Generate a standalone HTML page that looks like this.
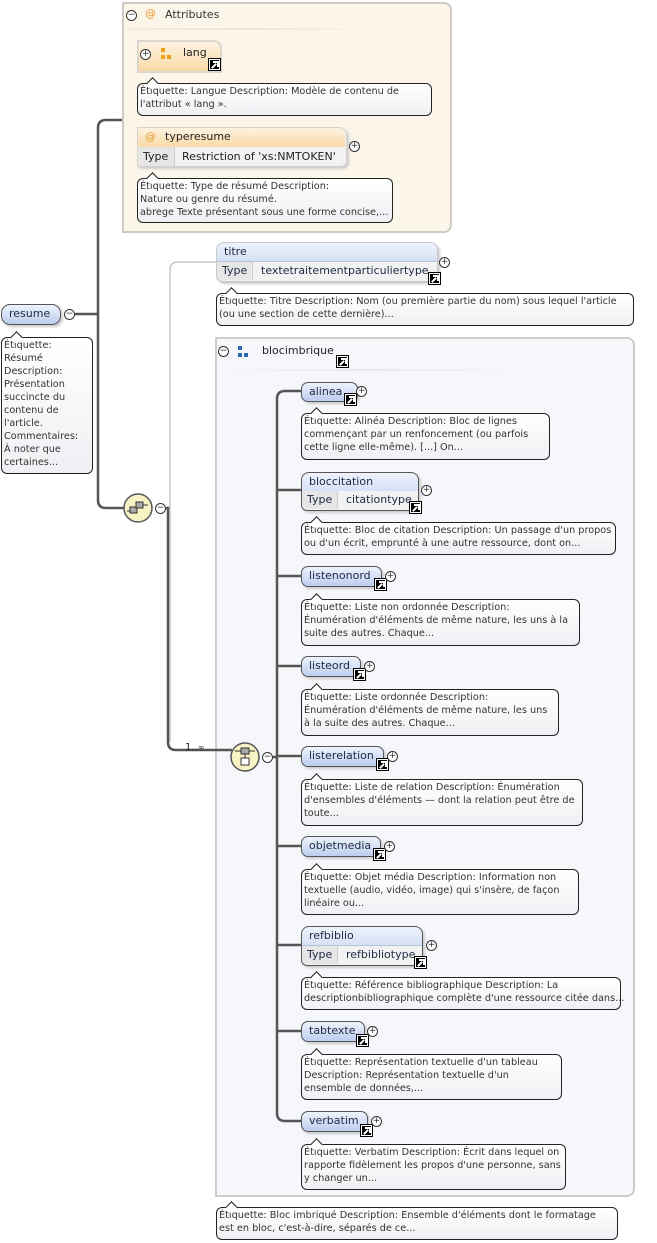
<!DOCTYPE html>
<html><head><meta charset="utf-8">
<style>
*{box-sizing:border-box;margin:0;padding:0}
body{width:657px;height:1243px;background:#fff;position:relative;overflow:hidden;font-family:"DejaVu Sans","Liberation Sans",sans-serif;color:#222}
.a{position:absolute}
.panel{position:absolute;border:2px solid #cfcac3;border-radius:0 8px 8px 0}
.ann{position:absolute;border:1px solid #222;border-radius:6px;background:linear-gradient(#fff,#eef0f3);font-size:9.7px;line-height:13px;padding:1px 2px;color:#333;white-space:nowrap}
.ann:before{content:"";position:absolute;left:10px;top:-5px;width:8px;height:8px;background:#fff;border-left:1px solid #222;border-top:1px solid #222;transform:rotate(45deg)}
.el{position:absolute;border:1px solid #555;border-radius:7px;background:linear-gradient(#eef3fc,#bccdee);box-shadow:2px 2px 2px #ccc;font-size:11px;line-height:18px;padding-left:7px;color:#1d2a44}
.el.t{border-radius:8px 8px 6px 6px}
.el .h{height:19px;border-bottom:1px solid #b5c3dd}
.el .r{position:absolute;left:0;right:0;bottom:0;height:19px;background:#f2f2f2;font-size:11px;line-height:18px;border-radius:0 0 6px 6px}
.el .r span{position:absolute;top:0}
.el .r .k{left:0;width:36px;padding-left:5px;background:#e6e6e6;border-right:1px solid #d0d0d0;height:18px;border-radius:0 0 0 6px}
.sc{position:absolute;width:11px;height:11px;background:#000;border:1px solid #fff;outline:1px solid #000}
.sc:after{content:"";position:absolute;left:3px;top:1px;width:4px;height:4px;border-top:2px solid #fff;border-right:2px solid #fff}
.sc:before{content:"";position:absolute;left:1px;top:5px;width:6px;height:2px;background:#fff;transform:rotate(-45deg)}
.pl,.mi{position:absolute;width:11px;height:11px;border:1px solid #333;border-radius:50%;background:#fff;font-size:9px;line-height:9px;text-align:center;color:#333}
</style></head><body>

<div class="panel" style="left:122px;top:2px;width:330px;height:231px;background:#fcf5ea"></div>
<div class="panel" style="left:215px;top:337px;width:420px;height:860px;background:#f6f7fb;border-color:#cdcdcd"></div>

<svg class="a" style="left:0;top:0" width="657" height="1243">
 <path d="M216 262 H178 Q170 262 170 270 V742" fill="none" stroke="#c8c8c8" stroke-width="1.5"/>
 <g fill="none" stroke="#555" stroke-width="2.5">
  <path d="M75 314 H98"/>
  <path d="M122 120 H106 Q98 120 98 128 V500 Q98 508 106 508 H124"/>
  <path d="M166 508 H168 V742 Q168 750 176 750 H232"/>
  <path d="M273 757 H277"/>
  <path d="M301 391 H285 Q277 391 277 399 V1113 Q277 1121 285 1121 H301"/>
  <path d="M277 490 H301 M277 576 H301 M277 666 H301 M277 756 H301 M277 846 H301 M277 945 H301 M277 1031 H301"/>
 </g>
 <circle cx="138" cy="508" r="14" fill="#f8f3c4" stroke="#555" stroke-width="1.5"/>
 <rect x="130" y="507" width="7" height="6" fill="#aaa" stroke="#333"/><rect x="136" y="502" width="7" height="6" fill="#aaa" stroke="#333"/>
 <path d="M127 511 H130 M143 505 H148" stroke="#333"/>
 <circle cx="245" cy="757" r="14" fill="#f8f3c4" stroke="#555" stroke-width="1.5"/>
 <path d="M235 751 H255 M245 754 V758" stroke="#333"/>
 <rect x="241" y="748" width="8" height="6" fill="#aaa" stroke="#333"/><rect x="241" y="758" width="8" height="7" fill="#fff" stroke="#333"/>
</svg>
<div class="mi" style="left:64px;top:309px">−</div>
<div class="mi" style="left:155px;top:503px">−</div>
<div class="mi" style="left:262px;top:752px">−</div>
<div class="a" style="left:185px;top:742px;font-size:10px">1..<span style="font-size:8px">∞</span></div>

<div class="el" style="left:1px;top:304px;width:60px;height:21px;border-radius:9px;padding-left:7px">resume</div>
<div class="ann" style="left:1px;top:337px;width:92px;height:137px;white-space:normal">Étiquette:<br>Résumé<br>Description:<br>Présentation<br>succincte du<br>contenu de<br>l'article.<br>Commentaires:<br>À noter que<br>certaines...</div>

<div class="mi" style="left:126px;top:10px">−</div>
<div class="a" style="left:145px;top:7px;font-size:11px;color:#e79a2a">@</div>
<div class="a" style="left:165px;top:8px;font-size:11px;color:#333">Attributes</div>
<div class="a" style="left:126px;top:28px;width:250px;height:2px;background:linear-gradient(90deg,#f3ece2,#ece5db,#fcf5ea)"></div>

<div class="a" style="left:137px;top:40px;width:85px;height:33px;border:2px solid #ddd6cc;border-radius:0 8px 0 0;background:linear-gradient(#fdf3e2,#f9d9a4)"></div>
<div class="pl" style="left:140px;top:49px">+</div>
<div class="a" style="left:161px;top:48px;width:4px;height:4px;background:#e8a21a"></div>
<div class="a" style="left:161px;top:55px;width:4px;height:4px;background:#e8a21a"></div>
<div class="a" style="left:167px;top:55px;width:4px;height:4px;background:#e8a21a"></div>
<div class="a" style="left:183px;top:46px;font-size:11px">lang</div>
<div class="sc" style="left:209px;top:59px"></div>
<div class="ann" style="left:137px;top:83px;width:295px;height:33px">Étiquette: Langue Description: Modèle de contenu de<br>l'attribut « lang ».</div>

<div class="a" style="left:137px;top:127px;width:210px;height:40px;border:1px solid #d8d2c8;border-radius:0 8px 6px 0;box-shadow:2px 2px 2px #ccc;background:#f2f2f2"></div>
<div class="a" style="left:138px;top:128px;width:207px;height:19px;background:linear-gradient(#fdf3e2,#f9d9a4);border-radius:0 8px 0 0"></div>
<div class="a" style="left:145px;top:130px;font-size:11px;color:#e79a2a">@</div>
<div class="a" style="left:165px;top:130px;font-size:11px">typeresume</div>
<div class="a" style="left:138px;top:147px;width:37px;height:19px;background:#e6e6e6;border-right:1px solid #d0d0d0"></div>
<div class="a" style="left:143px;top:150px;font-size:11px">Type</div>
<div class="a" style="left:182px;top:150px;font-size:11px">Restriction of 'xs:NMTOKEN'</div>
<div class="pl" style="left:349px;top:141px">+</div>
<div class="ann" style="left:137px;top:178px;width:256px;height:45px">Étiquette: Type de résumé Description:<br>Nature ou genre du résumé.<br>abrege Texte présentant sous une forme concise,...</div>

<div class="el t" style="left:216px;top:242px;width:222px;height:40px;padding:0;border-color:#c8c8c8"><div class="h" style="padding-left:7px">titre</div><div class="r"><span class="k">Type</span><span style="left:44px">textetraitementparticuliertype</span></div></div>
<div class="sc" style="left:429px;top:273px"></div>
<div class="pl" style="left:439px;top:257px">+</div>
<div class="ann" style="left:216px;top:293px;width:418px;height:33px">Étiquette: Titre Description: Nom (ou première partie du nom) sous lequel l'article<br>(ou une section de cette dernière)...</div>

<div class="mi" style="left:218px;top:346px">−</div>
<div class="a" style="left:238px;top:346px;width:4px;height:4px;background:#2a6ab0"></div>
<div class="a" style="left:238px;top:353px;width:4px;height:4px;background:#2a6ab0"></div>
<div class="a" style="left:244px;top:353px;width:4px;height:4px;background:#2a6ab0"></div>
<div class="a" style="left:262px;top:344px;font-size:11px">blocimbrique</div>
<div class="sc" style="left:337px;top:356px"></div>
<div class="a" style="left:218px;top:369px;width:300px;height:2px;background:linear-gradient(90deg,#f6f7fb,#e6e8ee,#f6f7fb)"></div>

<div class="el" style="left:301px;top:382px;width:57px;height:20px">alinea</div><div class="sc" style="left:345px;top:394px"></div><div class="pl" style="left:356px;top:386px">+</div>
<div class="ann" style="left:301px;top:413px;width:249px;height:47px">Étiquette: Alinéa Description: Bloc de lignes<br>commençant par un renfoncement (ou parfois<br>cette ligne elle-même). [...] On...</div>

<div class="el t" style="left:301px;top:472px;width:118px;height:39px;padding:0"><div class="h" style="padding-left:7px">bloccitation</div><div class="r"><span class="k">Type</span><span style="left:44px">citationtype</span></div></div><div class="sc" style="left:410px;top:502px"></div><div class="pl" style="left:421px;top:485px">+</div>
<div class="ann" style="left:301px;top:522px;width:315px;height:33px">Étiquette: Bloc de citation Description: Un passage d'un propos<br>ou d'un écrit, emprunté à une autre ressource, dont on...</div>

<div class="el" style="left:301px;top:566px;width:81px;height:21px">listenonord</div><div class="sc" style="left:375px;top:579px"></div><div class="pl" style="left:385px;top:571px">+</div>
<div class="ann" style="left:301px;top:599px;width:279px;height:47px">Étiquette: Liste non ordonnée Description:<br>Énumération d'éléments de même nature, les uns à la<br>suite des autres. Chaque...</div>

<div class="el" style="left:301px;top:656px;width:60px;height:21px">listeord</div><div class="sc" style="left:354px;top:669px"></div><div class="pl" style="left:364px;top:661px">+</div>
<div class="ann" style="left:301px;top:689px;width:258px;height:47px">Étiquette: Liste ordonnée Description:<br>Énumération d'éléments de même nature, les uns<br>à la suite des autres. Chaque...</div>

<div class="el" style="left:301px;top:746px;width:83px;height:21px">listerelation</div><div class="sc" style="left:377px;top:759px"></div><div class="pl" style="left:387px;top:751px">+</div>
<div class="ann" style="left:301px;top:779px;width:282px;height:47px">Étiquette: Liste de relation Description: Énumération<br>d'ensembles d'éléments — dont la relation peut être de<br>toute...</div>

<div class="el" style="left:301px;top:836px;width:80px;height:21px">objetmedia</div><div class="sc" style="left:374px;top:849px"></div><div class="pl" style="left:384px;top:841px">+</div>
<div class="ann" style="left:301px;top:869px;width:278px;height:46px">Étiquette: Objet média Description: Information non<br>textuelle (audio, vidéo, image) qui s'insère, de façon<br>linéaire ou...</div>

<div class="el t" style="left:301px;top:926px;width:122px;height:40px;padding:0"><div class="h" style="padding-left:7px">refbiblio</div><div class="r"><span class="k">Type</span><span style="left:44px">refbibliotype</span></div></div><div class="sc" style="left:415px;top:957px"></div><div class="pl" style="left:426px;top:940px">+</div>
<div class="ann" style="left:301px;top:977px;width:320px;height:33px">Étiquette: Référence bibliographique Description: La<br>descriptionbibliographique complète d'une ressource citée dans...</div>

<div class="el" style="left:301px;top:1021px;width:64px;height:21px">tabtexte</div><div class="sc" style="left:357px;top:1035px"></div><div class="pl" style="left:367px;top:1026px">+</div>
<div class="ann" style="left:301px;top:1054px;width:261px;height:46px">Étiquette: Représentation textuelle d'un tableau<br>Description: Représentation textuelle d'un<br>ensemble de données,...</div>

<div class="el" style="left:301px;top:1111px;width:67px;height:21px">verbatim</div><div class="sc" style="left:361px;top:1125px"></div><div class="pl" style="left:371px;top:1116px">+</div>
<div class="ann" style="left:301px;top:1144px;width:265px;height:46px">Étiquette: Verbatim Description: Écrit dans lequel on<br>rapporte fidèlement les propos d'une personne, sans<br>y changer un...</div>

<div class="ann" style="left:216px;top:1207px;width:402px;height:33px">Étiquette: Bloc imbriqué Description: Ensemble d'éléments dont le formatage<br>est en bloc, c'est-à-dire, séparés de ce...</div>

</body></html>
